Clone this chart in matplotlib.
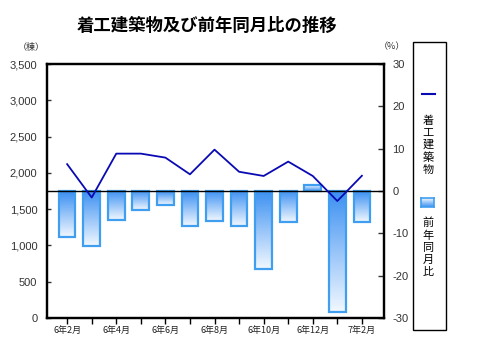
import numpy as np
import matplotlib
matplotlib.use("Agg")
import matplotlib.pyplot as plt
from matplotlib.colors import LinearSegmentedColormap
from matplotlib.patches import Rectangle
from matplotlib.lines import Line2D

plt.rcParams['font.family'] = ['Liberation Sans', 'Noto Sans CJK JP', 'DejaVu Sans']
plt.rcParams['axes.unicode_minus'] = False

months = ['6年2月', '6年3月', '6年4月', '6年5月', '6年6月', '6年7月', '6年8月',
          '6年9月', '6年10月', '6年11月', '6年12月', '7年1月', '7年2月']
buildings = [2120, 1660, 2265, 2265, 2210, 1980, 2320, 2015, 1957, 2155, 1957, 1612, 1960]
yoy = [-10.8, -13.0, -6.9, -4.5, -3.3, -8.2, -7.1, -8.3, -18.5, -7.4, 1.3, -28.7, -7.3]
tick_labels = ['6年2月', '', '6年4月', '', '6年6月', '', '6年8月', '', '6年10月', '', '6年12月', '', '7年2月']

title = '着工建築物及び前年同月比の推移'
line_name = '着工建築物'
bar_name = '前年同月比'

line_color = '#0a0ab4'
edge_color = '#3f9ef0'
cmap = LinearSegmentedColormap.from_list('g', ['#3a8ff2', '#f2f8ff'])

fig = plt.figure(figsize=(4.8, 3.59), dpi=100)
ax = fig.add_axes([47/480, 1-318/359, 337/480, 254/359])
ax2 = ax.twinx()
ax.set_zorder(ax2.get_zorder() + 1)
ax.patch.set_visible(False)

x = np.arange(len(months))
w = 0.68
grad = np.linspace(0, 1, 256).reshape(-1, 1)
for xi, v in zip(x, yoy):
    im = ax2.imshow(grad, cmap=cmap, origin='lower', aspect='auto',
                    extent=(xi - w/2, xi + w/2, 0, v), zorder=2, interpolation='bilinear')
    r = Rectangle((xi - w/2, 0), w, v, facecolor='none', edgecolor=edge_color,
                  linewidth=1.6, zorder=3)
    ax2.add_patch(r)
    im.set_clip_path(r)

ax2.axhline(0, color='black', linewidth=1.0, zorder=4)
ax.plot(x, buildings, color=line_color, linewidth=1.3, zorder=5)

ax.set_xlim(-0.82, 12.9)
ax.set_ylim(0, 3500)
ax2.set_ylim(-30, 30)
ax.set_yticks(np.arange(0, 3501, 500))
ax.set_yticklabels([f'{v:,}' for v in range(0, 3501, 500)])
ax2.set_yticks(np.arange(-30, 31, 10))
ax.set_xticks(x)
ax.set_xticklabels(tick_labels, fontsize=6.5, family=['Noto Sans CJK JP'], color='#222222')

ax.tick_params(axis='y', direction='in', length=3, width=1, labelsize=8, colors='#333333', pad=7)
ax.tick_params(axis='x', direction='out', length=4, width=1, pad=2)
ax2.tick_params(axis='y', direction='in', length=4, width=1, labelsize=8, colors='#333333', pad=6)
for a in (ax, ax2):
    for s in a.spines.values():
        s.set_linewidth(1.6)
        s.set_color('black')
for lbl in ax.get_yticklabels() + ax2.get_yticklabels():
    lbl.set_color('#333333')

fig.text(207/480, 1-26/359, title, ha='center', va='center', fontsize=12.5,
         fontweight='bold', family=['Noto Sans CJK JP'])
fig.text(31/480, 1-47/359, '（棟）', ha='center', va='center', fontsize=6.5,
         family=['Noto Sans CJK JP'], color='#333333')
fig.text(392/480, 1-47/359, '（%）', ha='center', va='center', fontsize=6.5,
         family=['Noto Sans CJK JP'], color='#333333')

# legend
fig.patches.append(Rectangle((413/480, 1-330/359), 33/480, 288/359, transform=fig.transFigure,
                             facecolor='none', edgecolor='black', linewidth=1.0, zorder=-1))
fig.lines.append(Line2D([422/480, 435/480], [1-94/359, 1-94/359], transform=fig.transFigure,
                        color=line_color, linewidth=1.5))
fig.text(428/480, 1-145/359, '\n'.join(line_name), ha='center', va='center', fontsize=8,
         family=['Noto Sans CJK JP'], linespacing=1.25)
lax = fig.add_axes([421/480, 1-207/359, 13/480, 9/359])
lax.imshow(grad[::-1], cmap=cmap, aspect='auto', extent=(0, 1, 0, 1))
lax.set_xlim(0, 1); lax.set_ylim(0, 1)
lax.set_xticks([]); lax.set_yticks([])
for s in lax.spines.values():
    s.set_color(edge_color); s.set_linewidth(1.2)
fig.text(428/480, 1-247/359, '\n'.join(bar_name), ha='center', va='center', fontsize=8,
         family=['Noto Sans CJK JP'], linespacing=1.25)

fig.savefig('out.png', dpi=100)
